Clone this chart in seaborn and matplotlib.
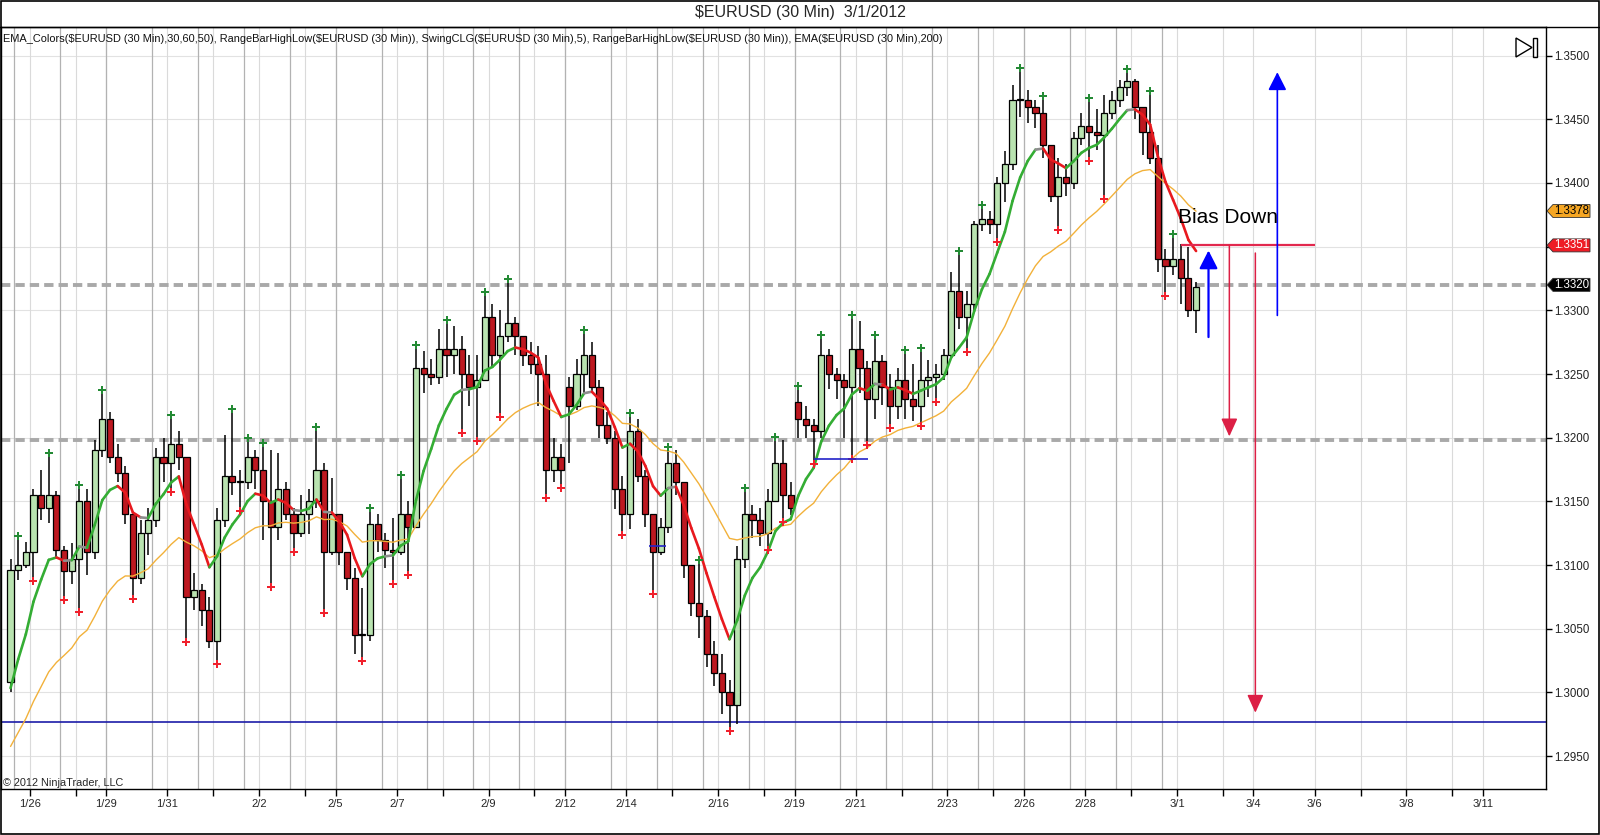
import matplotlib
matplotlib.use('Agg')
import matplotlib.pyplot as plt
from matplotlib.patches import Polygon, Rectangle
from matplotlib.lines import Line2D
from matplotlib.collections import LineCollection
import seaborn as sns
import numpy as np
import pandas as pd

# 4-hour bars; x axis = trading hours since 1/26 00:00 (weekend gap removed)
# first bar starts at hour -12 (1/25 12:00)
first_open = 1.3008
gap_opens = {280: 1.3240, 400: 1.3228}   # Sunday opens that gapped

highs = [
    1.3105, 1.3120, 1.3118,                                  # 1/25
    1.3160, 1.3175, 1.3185, 1.3158, 1.3115, 1.3117,          # 1/26
    1.3160, 1.3160, 1.3198, 1.3235,                          # 1/27
    1.3220, 1.3195,                                          # 1/29
    1.3178, 1.3140, 1.3135, 1.3145, 1.3192, 1.3200,          # 1/30
    1.3215, 1.3205, 1.3185, 1.3094, 1.3085, 1.3075,          # 1/31
    1.3145, 1.3202, 1.3220, 1.3175, 1.3197, 1.3190,          # 2/1
    1.3193, 1.3190, 1.3188, 1.3165, 1.3145, 1.3155,          # 2/2
    1.3160, 1.3206, 1.3180, 1.3168,                          # 2/3
    1.3140, 1.3110,                                          # 2/5
    1.3098, 1.3082, 1.3142, 1.3140, 1.3125, 1.3137,          # 2/6
    1.3168, 1.3150, 1.3270, 1.3268, 1.3262, 1.3285,          # 2/7
    1.3290, 1.3288, 1.3280, 1.3265, 1.3265, 1.3312,          # 2/8
    1.3305, 1.3300, 1.3322, 1.3295, 1.3280, 1.3275,          # 2/9
    1.3272, 1.3265, 1.3200, 1.3195,                          # 2/10
    1.3248, 1.3262,                                          # 2/12
    1.3282, 1.3275, 1.3245, 1.3220, 1.3205, 1.3170,          # 2/13
    1.3217, 1.3215, 1.3175, 1.3140, 1.3137, 1.3190,          # 2/14
    1.3190, 1.3165, 1.3100, 1.3101, 1.3065, 1.3040,          # 2/15
    1.3030, 1.3010, 1.3115, 1.3158, 1.3147, 1.3145,          # 2/16
    1.3160, 1.3198, 1.3198, 1.3165,                          # 2/17
    1.3238, 1.3225,                                          # 2/19
    1.3215, 1.3278, 1.3270, 1.3255, 1.3250, 1.3294,          # 2/20
    1.3292, 1.3260, 1.3278, 1.3265, 1.3250, 1.3255,          # 2/21
    1.3266, 1.3258, 1.3268, 1.3261, 1.3258, 1.3270,          # 2/22
    1.3330, 1.3344, 1.3315, 1.3370, 1.3380, 1.3378,          # 2/23
    1.3405, 1.3425, 1.3477, 1.3488,                          # 2/24
    1.3473, 1.3465,                                          # 2/26
    1.3466, 1.3430, 1.3420, 1.3415, 1.3440, 1.3455,          # 2/27
    1.3464, 1.3458, 1.3469, 1.3472, 1.3481, 1.3487,          # 2/28
    1.3482, 1.3460, 1.3470, 1.3430, 1.3348, 1.3357,          # 2/29
    1.3352, 1.3350, 1.3322,                                  # 3/1
]
lows = [
    1.3000, 1.3088, 1.3098,
    1.3090, 1.3135, 1.3133, 1.3105, 1.3075, 1.3085,
    1.3066, 1.3092, 1.3105, 1.3185,
    1.3180, 1.3165,
    1.3132, 1.3076, 1.3085, 1.3108, 1.3130, 1.3165,
    1.3160, 1.3175, 1.3042, 1.3065, 1.3052, 1.3035,
    1.3025, 1.3130, 1.3155, 1.3145, 1.3160, 1.3160,
    1.3120, 1.3085, 1.3120, 1.3135, 1.3113, 1.3122,
    1.3124, 1.3145, 1.3065, 1.3108,
    1.3100, 1.3080,
    1.3030, 1.3027, 1.3040, 1.3110, 1.3098, 1.3088,
    1.3108, 1.3095, 1.3130, 1.3235, 1.3241, 1.3242,
    1.3248, 1.3250, 1.3206, 1.3225, 1.3200, 1.3245,
    1.3255, 1.3219, 1.3275, 1.3265, 1.3256, 1.3250,
    1.3225, 1.3155, 1.3165, 1.3163,
    1.3180, 1.3222,
    1.3234, 1.3235, 1.3200, 1.3195, 1.3144, 1.3126,
    1.3128, 1.3165, 1.3130, 1.3080, 1.3108, 1.3125,
    1.3155, 1.3090, 1.3060, 1.3043, 1.3020, 1.3005,
    1.2983, 1.2972, 1.2975, 1.3098, 1.3121, 1.3115,
    1.3114, 1.3150, 1.3136, 1.3139,
    1.3200, 1.3200,
    1.3182, 1.3200, 1.3238, 1.3230, 1.3200, 1.3186,
    1.3235, 1.3197, 1.3215, 1.3226, 1.3210, 1.3215,
    1.3215, 1.3213, 1.3212, 1.3232, 1.3231, 1.3245,
    1.3262, 1.3285, 1.3270, 1.3300, 1.3362, 1.3360,
    1.3356, 1.3385, 1.3410, 1.3452,
    1.3447, 1.3443,
    1.3420, 1.3385, 1.3366, 1.3390, 1.3395, 1.3430,
    1.3420, 1.3426, 1.3390, 1.3450, 1.3460, 1.3468,
    1.3450, 1.3422, 1.3415, 1.3330, 1.3314, 1.3328,
    1.3305, 1.3295, 1.3282,
]
closes = [
    1.3096, 1.3100, 1.3110,
    1.3155, 1.3145, 1.3155, 1.3112, 1.3095, 1.3105,
    1.3150, 1.3110, 1.3190, 1.3215,
    1.3185, 1.3172,
    1.3140, 1.3090, 1.3125, 1.3135, 1.3185, 1.3180,
    1.3195, 1.3185, 1.3075, 1.3080, 1.3065, 1.3040,
    1.3135, 1.3170, 1.3165, 1.3165, 1.3185, 1.3175,
    1.3150, 1.3130, 1.3160, 1.3140, 1.3125, 1.3140,
    1.3150, 1.3175, 1.3110, 1.3140,
    1.3110, 1.3090,
    1.3045, 1.3045, 1.3132, 1.3120, 1.3112, 1.3110,
    1.3140, 1.3130, 1.3255, 1.3250, 1.3248, 1.3270,
    1.3265, 1.3270, 1.3250, 1.3240, 1.3245, 1.3295,
    1.3265, 1.3280, 1.3290, 1.3280, 1.3265, 1.3258,
    1.3250, 1.3175, 1.3185, 1.3175,
    1.3225, 1.3250,
    1.3265, 1.3240, 1.3210, 1.3200, 1.3160, 1.3140,
    1.3205, 1.3170, 1.3140, 1.3110, 1.3130, 1.3180,
    1.3165, 1.3100, 1.3070, 1.3060, 1.3030, 1.3015,
    1.3000, 1.2990, 1.3105, 1.3140, 1.3135, 1.3125,
    1.3150, 1.3180, 1.3155, 1.3145,
    1.3215, 1.3210,
    1.3205, 1.3265, 1.3250, 1.3245, 1.3240, 1.3270,
    1.3255, 1.3230, 1.3260, 1.3240, 1.3225, 1.3245,
    1.3230, 1.3225, 1.3245, 1.3248, 1.3250, 1.3265,
    1.3315, 1.3295, 1.3305, 1.3368, 1.3372, 1.3368,
    1.3400, 1.3415, 1.3465, 1.3465,
    1.3460, 1.3455,
    1.3430, 1.3390, 1.3405, 1.3400, 1.3435, 1.3445,
    1.3440, 1.3438, 1.3455, 1.3465, 1.3475, 1.3480,
    1.3460, 1.3440, 1.3420, 1.3340, 1.3335, 1.3340,
    1.3325, 1.3300, 1.3318,
]

# EMA start values (carried in from before the first bar)
ema_fast_seed = 1.2975
ema_slow_seed = 1.2946

# x axis (trading hours since 1/26 00:00)
tick_labels = ['1/26', '1/29', '1/31', '2/2', '2/5', '2/7', '2/9', '2/12', '2/14', '2/16',
               '2/19', '2/21', '2/23', '2/26', '2/28', '3/1', '3/4', '3/6', '3/8', '3/11']
tick_hours = [0, 40, 72, 120, 160, 192, 240, 280, 312, 360,
              400, 432, 480, 520, 552, 600, 640, 672, 720, 760]
minor_hours = [24, 96, 144, 216, 264, 336, 384, 456, 504, 576, 624, 696, 744]
session_breaks = list(range(-8, 600, 24))

# drawn objects
dashed_levels = [1.3320, 1.3198]
blue_level = 1.2977
range_segments = [(324, 333, 1.3115), (410, 438.6, 1.3183)]
target_level = (602, 672, 1.3351)
blue_arrows = [(616.5, 1.3279, 1.3347, 1.6), (652.5, 1.3296, 1.3487, 1.2)]
red_arrows = [(627.4, 1.3351, 1.3201), (641.0, 1.3345, 1.2984)]
bias_text = (600.4, 1.3373, 'Bias Down')
price_tags = [(1.3378, '#f5a623', 'black'), (1.3351, '#ee1c25', 'white'), (1.3320, '#000000', 'white')]

subtitle = ('EMA_Colors($EURUSD (30 Min),30,60,50), RangeBarHighLow($EURUSD (30 Min)), '
            'SwingCLG($EURUSD (30 Min),5), RangeBarHighLow($EURUSD (30 Min)), EMA($EURUSD (30 Min),200)')

sns.set_style('white')
plt.rcParams['font.family'] = ['Liberation Sans', 'DejaVu Sans']

W, H = 1600, 835
fig = plt.figure(figsize=(W / 100, H / 100), dpi=100)
ax_l, ax_r = 0.6 / W, 1546 / W
ax_b, ax_t = 1 - 789 / H, 1 - 27 / H
ax = fig.add_axes([ax_l, ax_b, ax_r - ax_l, ax_t - ax_b])

x_min, x_max = -15.2, 793.0
y_min, y_max = 1.29241, 1.35225
ax.set_xlim(x_min, x_max)
ax.set_ylim(y_min, y_max)

# bars
n = len(closes)
assert len(highs) == n and len(lows) == n
starts = np.arange(n) * 4 - 12
opens = [first_open] + closes[:-1]
for hr, v in gap_opens.items():
    opens[(hr + 12) // 4] = v
df = pd.DataFrame({'x': starts + 2.0, 'o': opens, 'h': highs, 'l': lows, 'c': closes})
df['top'] = df[['h', 'o', 'c']].max(axis=1)
df['bot'] = df[['l', 'o', 'c']].min(axis=1)

# grid
yticks = np.round(np.arange(1.2950, 1.35001, 0.005), 4)
for v in yticks:
    ax.axhline(v, color='#e2e2e2', lw=0.8, zorder=0)
for hr in tick_hours + minor_hours:
    ax.axvline(hr, color='#dadada', lw=0.8, zorder=0)
for hr in session_breaks:
    ax.axvline(hr, color='#b2b2b2', lw=0.9, zorder=0.5)

# level lines
for v in dashed_levels:
    ax.axhline(v, color='#a9a9a9', lw=2.8, ls=(0, (2.4, 1.3)), zorder=2)
ax.axhline(blue_level, color='#1c1ca8', lw=1.2, zorder=2)

# candles
up = (df.c >= df.o).values
ax.vlines(df.x, df.bot, df.top, color='black', lw=1.1, zorder=3)
body_lo = np.minimum(df.o, df.c)
body_h = np.maximum((df.c - df.o).abs(), 0.00006)
ax.bar(df.x, body_h, bottom=body_lo, width=3.2,
       color=np.where(up, '#b9e3b0', '#bd1820'), edgecolor='black', linewidth=0.9, zorder=4)

# EMAs
a_fast = 1 - (1 - 2 / 61) ** 8
a_slow = 1 - (1 - 2 / 201) ** 8
fast, slow = [], []
vf, vs = ema_fast_seed, ema_slow_seed
for c in closes:
    vf += a_fast * (c - vf)
    vs += a_slow * (c - vs)
    fast.append(vf)
    slow.append(vs)
fast = np.array(fast)
slow = np.array(slow)

sns.lineplot(x=df.x, y=slow, color='#f2b13a', linewidth=1.0, ax=ax, zorder=5)

pts = np.column_stack([df.x.values, fast])
segs = np.stack([pts[:-1], pts[1:]], axis=1)
d = np.diff(fast)
seg_colors = np.where(d > 0.00012, '#34ad34', np.where(d < -0.00012, '#e8191e', '#8d8d8d'))
ax.add_collection(LineCollection(segs, colors=seg_colors, linewidths=1.9, zorder=5, capstyle='round'))

# swing points
hi = df.h.values
lo = df.l.values
sw_hi = [i for i in range(1, n - 1) if hi[i] > hi[i - 1] and hi[i] >= hi[i + 1]]
sw_lo = [i for i in range(1, n - 1) if lo[i] < lo[i - 1] and lo[i] <= lo[i + 1]]
sns.scatterplot(x=df.x.values[sw_hi], y=hi[sw_hi] + 0.00026, marker='P', color='#238a34',
                s=30, linewidth=0, ax=ax, zorder=6)
sns.scatterplot(x=df.x.values[sw_lo], y=lo[sw_lo] - 0.00026, marker='P', color='#f0202c',
                s=30, linewidth=0, ax=ax, zorder=6)

# range bar segments
for x0, x1, v in range_segments:
    ax.hlines(v, x0, x1, color='#2323c8', lw=1.2, zorder=6)

# projection drawing
x0, x1, v = target_level
ax.hlines(v, x0, x1, color='#e2284e', lw=1.6, zorder=7)
for x, y0, y1, lw in blue_arrows:
    ax.annotate('', xy=(x, y1), xytext=(x, y0),
                arrowprops=dict(arrowstyle='-|>,head_length=0.55,head_width=0.28', color='#0000ff',
                                lw=lw, shrinkA=0, shrinkB=0, mutation_scale=20), zorder=7)
for x, y0, y1 in red_arrows:
    ax.annotate('', xy=(x, y1), xytext=(x, y0),
                arrowprops=dict(arrowstyle='-|>,head_length=0.55,head_width=0.25', color='#dc1f45',
                                lw=1.1, shrinkA=0, shrinkB=0, mutation_scale=20), zorder=7)
ax.text(bias_text[0], bias_text[1], bias_text[2], fontsize=15, ha='left', va='center',
        color='black', zorder=8)

# axes styling
ax.set_xticks(tick_hours, tick_labels)
ax.set_xticks(minor_hours, minor=True)
ax.yaxis.tick_right()
ax.set_yticks(yticks, [f'{v:.4f}' for v in yticks])
ax.tick_params(axis='x', which='both', direction='out', length=5, width=1, color='black',
               labelsize=8, pad=2, bottom=True)
ax.tick_params(axis='y', which='both', direction='out', length=4, width=1, color='black',
               labelsize=8.3, pad=2, right=True, left=False, labelcolor='#222222')
for s in ax.spines.values():
    s.set_color('black')
    s.set_linewidth(1)
ax.set_xlabel('')
ax.set_ylabel('')

# price tags on the right axis
ax_w_px = (ax_r - ax_l) * W
ax_h_px = (ax_t - ax_b) * H
px = 1 / ax_w_px
hh = 6.5 * (y_max - y_min) / ax_h_px
ytr = ax.get_yaxis_transform()
for v, face, fg in price_tags:
    poly = Polygon([(1 + 1 * px, v), (1 + 7 * px, v + hh), (1 + 44 * px, v + hh),
                    (1 + 44 * px, v - hh), (1 + 7 * px, v - hh)],
                   closed=True, transform=ytr, facecolor=face, edgecolor='#333333',
                   lw=0.6, clip_on=False, zorder=9)
    ax.add_patch(poly)
    ax.text(1 + 25.5 * px, v, f'{v:.4f}', transform=ytr, ha='center', va='center',
            fontsize=8.3, color=fg, clip_on=False, zorder=10)

# figure texts and frame
def fx(p):
    return p / W


def fy(p):
    return 1 - p / H


fig.text(0.5, fy(12), '$EURUSD (30 Min)  3/1/2012', ha='center', va='center', fontsize=11.5)
fig.text(fx(3), fy(39), subtitle, ha='left', va='center', fontsize=7.9, color='#111111')
fig.text(fx(3), fy(783), '\u00a9 2012 NinjaTrader, LLC', ha='left', va='center', fontsize=7.8)
fig.add_artist(Line2D([0, 1], [ax_t, ax_t], transform=fig.transFigure, color='black', lw=1))
fig.add_artist(Rectangle((0.0005, 0.001), 0.999, 0.998, transform=fig.transFigure,
                         fill=False, edgecolor='black', lw=1.2))
# "go to end" icon
fig.add_artist(Polygon([(fx(1516), fy(38)), (fx(1516), fy(57)), (fx(1532), fy(47.5))],
                       closed=True, transform=fig.transFigure, fill=False, edgecolor='black', lw=1))
fig.add_artist(Rectangle((fx(1533), fy(57)), fx(4), 19 / H, transform=fig.transFigure,
                         fill=False, edgecolor='black', lw=1))

fig.savefig('out.png', dpi=100)
